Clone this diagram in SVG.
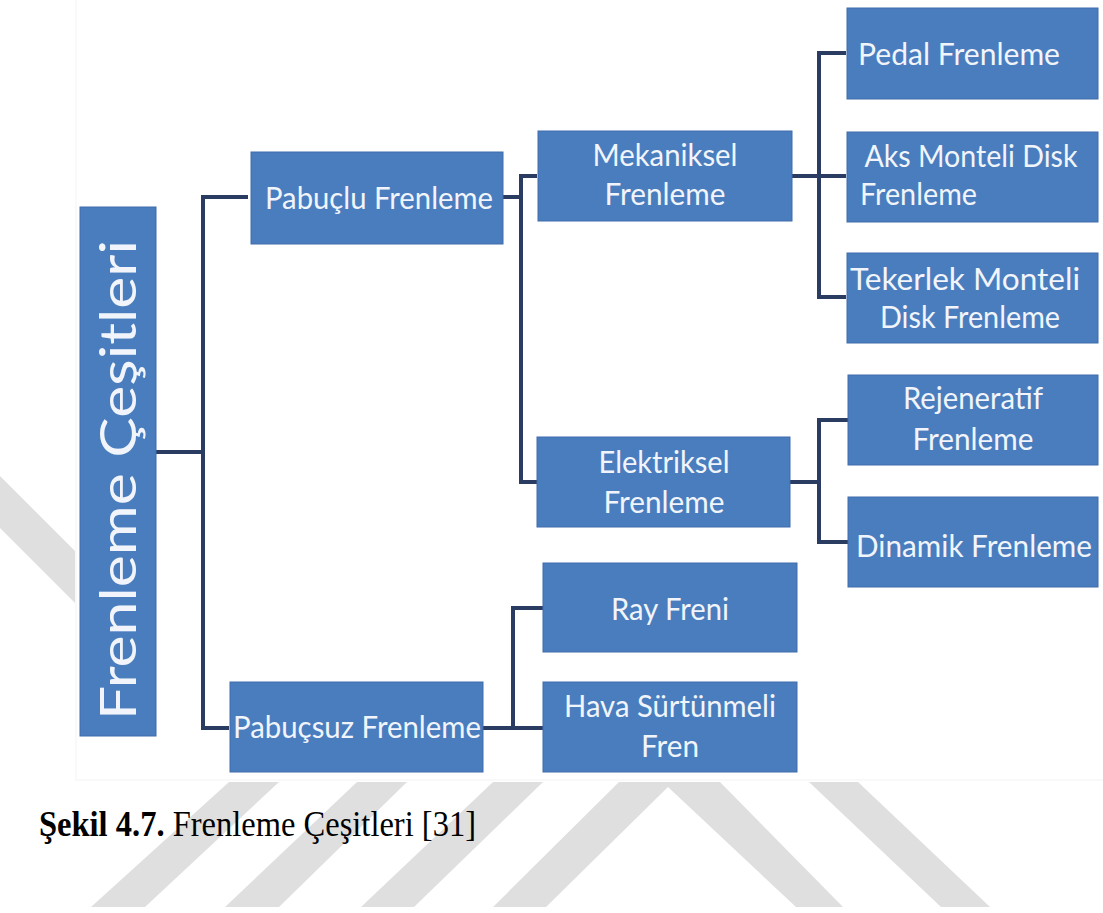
<svg xmlns="http://www.w3.org/2000/svg" width="1103" height="913" viewBox="0 0 1103 913">
<style>
.wm{fill:#dfdfdf}
.box{fill:#4a7dbe;stroke:#3e6cab;stroke-width:1}
.t{font-family:Lato,"Open Sans",sans-serif;font-size:31px;fill:#f1f5fb;text-anchor:middle}
.tl{font-family:Lato,"Open Sans",sans-serif;font-size:31px;fill:#f1f5fb;text-anchor:start}
.con{fill:none;stroke:#2b3c62;stroke-width:4;stroke-linejoin:miter;stroke-linecap:butt}
.cap{font-family:"Liberation Serif","Times New Roman",serif;font-size:35px;fill:#000}
</style>
<rect width="1103" height="913" fill="#ffffff"/>
<g id="watermark">
<polygon class="wm" points="0,476 0,528 75,603 75,551"/>
<polygon class="wm" points="229,782 279,782 145,907 91,907"/>
<polygon class="wm" points="357,782 407,782 279,907 225,907"/>
<polygon class="wm" points="493,782 543,782 414,907 361,907"/>
<polygon class="wm" points="619,782 720,782 843,907 796,907 668,787 546,907 493,907"/>
<polygon class="wm" points="809,782 858,782 990,907 941,907"/>
</g>
<rect id="panel" x="76" y="-1" width="1030" height="781" fill="#ffffff" stroke="#f3f3f3" stroke-width="1"/>
<g id="connectors">
<path class="con" d="M156 452 H203 M248 197 H203 V728 H229"/>
<path class="con" d="M503 197 H521 M537 176 H521 V482 H537"/>
<path class="con" d="M792 176 H846 M846 53 H819 V297 H846"/>
<path class="con" d="M790 482 H819 M848 420 H819 V542 H848"/>
<path class="con" d="M483 728 H543 M543 608 H513 V728"/>
</g>
<g id="root">
<rect class="box" x="80" y="207" width="76" height="529"/>
<text transform="translate(136,720) rotate(-90)" x="0" y="0" style="font-family:Lato,'Open Sans',sans-serif;font-size:50px;fill:#f1f5fb" textLength="480" lengthAdjust="spacingAndGlyphs">Frenleme Çeşitleri</text>
</g>
<g id="pabuclu">
<rect class="box" x="251" y="152" width="252" height="92"/>
<text class="t" x="379" y="209" textLength="228" lengthAdjust="spacingAndGlyphs">Pabuçlu Frenleme</text>
</g>
<g id="pabucsuz">
<rect class="box" x="230" y="682" width="253" height="90"/>
<text class="t" x="357" y="738" textLength="248" lengthAdjust="spacingAndGlyphs">Pabuçsuz Frenleme</text>
</g>
<g id="mekaniksel">
<rect class="box" x="538" y="131" width="254" height="90"/>
<text class="t" x="665" y="166" textLength="145" lengthAdjust="spacingAndGlyphs">Mekaniksel</text>
<text class="t" x="665" y="205" textLength="121" lengthAdjust="spacingAndGlyphs">Frenleme</text>
</g>
<g id="elektriksel">
<rect class="box" x="537" y="437" width="253" height="90"/>
<text class="t" x="664" y="473" textLength="131" lengthAdjust="spacingAndGlyphs">Elektriksel</text>
<text class="t" x="664" y="513" textLength="121" lengthAdjust="spacingAndGlyphs">Frenleme</text>
</g>
<g id="pedal">
<rect class="box" x="847" y="8" width="251" height="91"/>
<text class="t" x="959" y="65" textLength="202" lengthAdjust="spacingAndGlyphs">Pedal Frenleme</text>
</g>
<g id="aks">
<rect class="box" x="847" y="132" width="251" height="90"/>
<text class="t" x="971" y="167" textLength="213" lengthAdjust="spacingAndGlyphs">Aks Monteli Disk</text>
<text class="tl" x="860" y="205" textLength="117" lengthAdjust="spacingAndGlyphs">Frenleme</text>
</g>
<g id="tekerlek">
<rect class="box" x="847" y="253" width="251" height="90"/>
<text class="t" x="965" y="290" textLength="230" lengthAdjust="spacingAndGlyphs">Tekerlek Monteli</text>
<text class="t" x="970" y="328" textLength="180" lengthAdjust="spacingAndGlyphs">Disk Frenleme</text>
</g>
<g id="rejeneratif">
<rect class="box" x="848" y="375" width="250" height="90"/>
<text class="t" x="973" y="409" textLength="140" lengthAdjust="spacingAndGlyphs">Rejeneratif</text>
<text class="t" x="973" y="450" textLength="121" lengthAdjust="spacingAndGlyphs">Frenleme</text>
</g>
<g id="dinamik">
<rect class="box" x="848" y="497" width="250" height="90"/>
<text class="t" x="974" y="557" textLength="236" lengthAdjust="spacingAndGlyphs">Dinamik Frenleme</text>
</g>
<g id="ray">
<rect class="box" x="543" y="563" width="254" height="89"/>
<text class="t" x="670" y="620" textLength="118" lengthAdjust="spacingAndGlyphs">Ray Freni</text>
</g>
<g id="hava">
<rect class="box" x="543" y="682" width="254" height="90"/>
<text class="t" x="670" y="717" textLength="212" lengthAdjust="spacingAndGlyphs">Hava Sürtünmeli</text>
<text class="t" x="670" y="757" textLength="58" lengthAdjust="spacingAndGlyphs">Fren</text>
</g>
<text id="caption" class="cap" x="39" y="836" textLength="437" lengthAdjust="spacingAndGlyphs"><tspan font-weight="bold">Şekil 4.7.</tspan> Frenleme Çeşitleri [31]</text>
</svg>
